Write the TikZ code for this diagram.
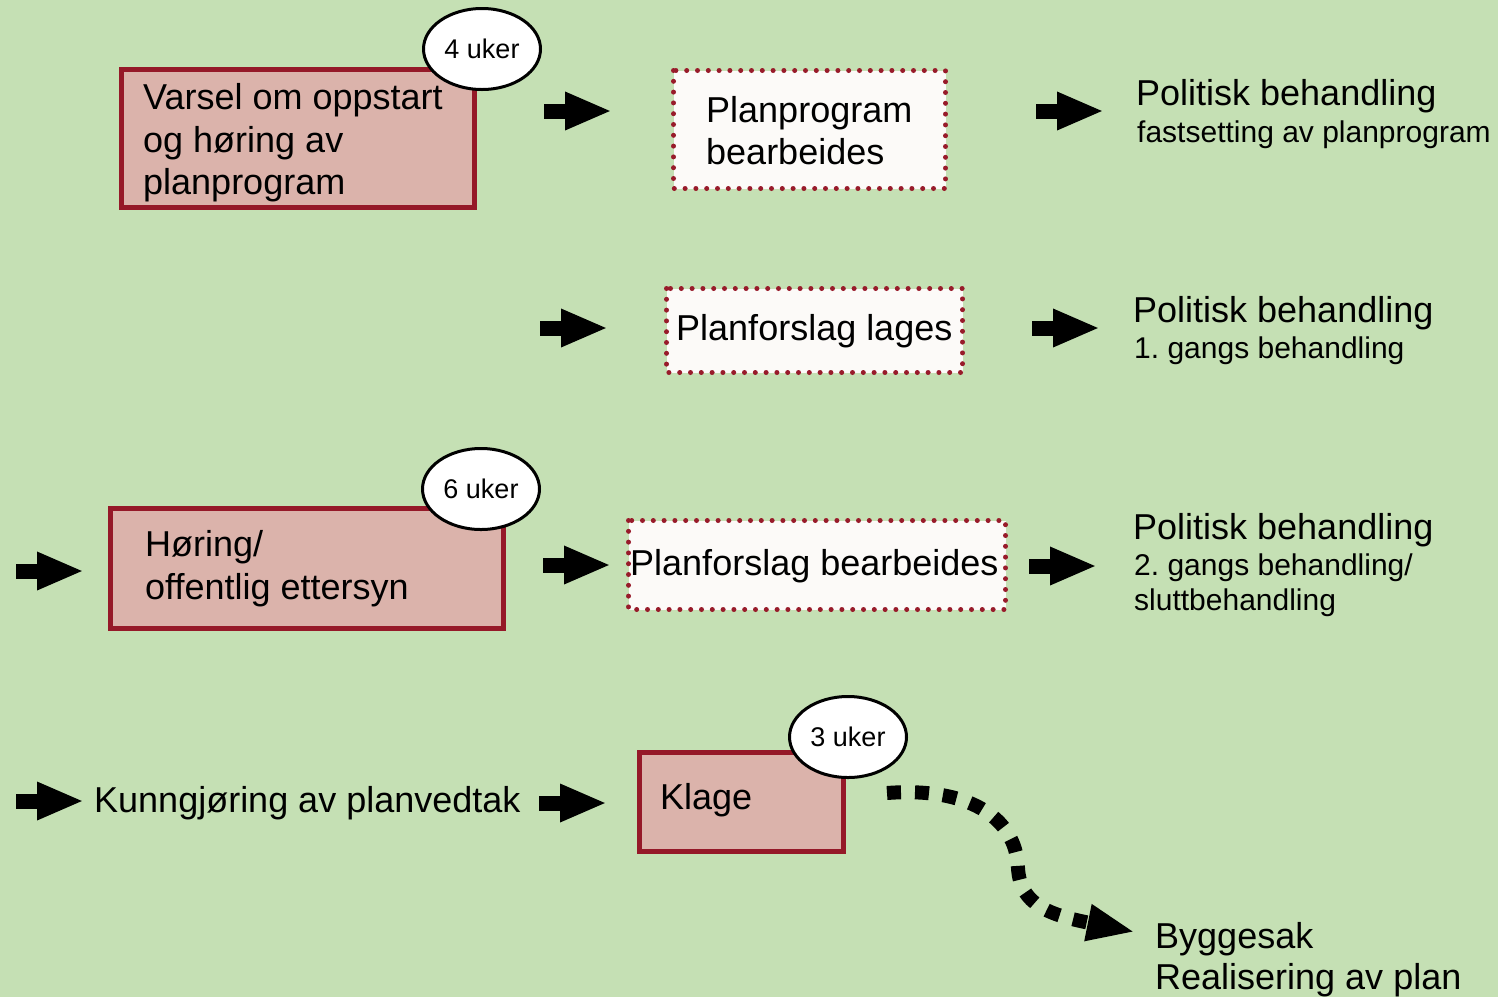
\documentclass[tikz,border=0pt]{standalone}
\usepackage{fontspec}
\setmainfont{Liberation Sans}
\usetikzlibrary{arrows.meta,shapes.geometric}
\frenchspacing
\definecolor{bggreen}{RGB}{197,224,180}
\definecolor{boxpink}{RGB}{219,179,171}
\definecolor{boxred}{RGB}{149,25,40}
\definecolor{dotred}{RGB}{152,27,42}
\definecolor{paper}{RGB}{252,250,248}
\tikzset{
  bigtxt/.style={anchor=base west,inner sep=0pt,font=\fontsize{36}{43}\selectfont},
  subtxt/.style={anchor=base west,inner sep=0pt,font=\fontsize{30}{36}\selectfont},
  pinkbox/.style={fill=boxpink,draw=boxred,line width=5.5pt},
  dotbox/.style={fill=paper,draw=dotred,line width=5pt,line cap=round,dash pattern=on 0pt off 10.8pt},
  bubble/.style={ellipse,draw=black,fill=white,line width=3pt,minimum width=117pt,minimum height=81pt,inner sep=0pt,font=\fontsize{27}{31}\selectfont},
  blockarrow/.style={line width=15pt,-{Triangle[length=47pt,width=35pt]}},
  dasharrow/.style={line width=14pt,dash pattern=on 14pt off 14pt,-{Triangle[length=48pt,width=34pt]}}
}
\begin{document}
\begin{tikzpicture}[x=1pt,y=-1pt]
\fill[bggreen] (0,0) rectangle (1498,997);
\useasboundingbox (0,0) rectangle (1498,997);

% ---------- row 1 ----------
\draw[pinkbox] (121.5,69.5) rectangle (474.5,207.5);
\node[bigtxt] (v1) at (143,109) {Varsel om oppstart};
\node[bigtxt] (v2) at (143,152) {og høring av};
\node[bigtxt] (v3) at (143,194) {planprogram};
\node[bubble] (u4) at (482,49) {4 uker};

\draw[blockarrow] (544,111) coordinate (a1s) -- (612,111) coordinate (a1e);

\draw[dotbox] (673.5,70.5) rectangle (945.5,188.5);
\node[bigtxt] (pb1) at (706,122) {Planprogram};
\node[bigtxt] (pb2) at (706,164) {bearbeides};

\draw[blockarrow] (1036,111) coordinate (a2s) -- (1104,111) coordinate (a2e);

\node[bigtxt] (p1) at (1136,105) {Politisk behandling};
\node[subtxt] (p1s) at (1137,142) {fastsetting av planprogram};

% ---------- row 2 ----------
\draw[blockarrow] (540,328) coordinate (a3s) -- (608,328) coordinate (a3e);

\draw[dotbox] (666.5,288.5) rectangle (962.5,372.5);
\node[bigtxt] (pl) at (676,340) {Planforslag lages};

\draw[blockarrow] (1032,328) coordinate (a4s) -- (1100,328) coordinate (a4e);

\node[bigtxt] (p2) at (1133,322) {Politisk behandling};
\node[subtxt] (p2s) at (1134,358) {1. gangs behandling};

% ---------- row 3 ----------
\draw[blockarrow] (16,571) coordinate (a5s) -- (84,571) coordinate (a5e);

\draw[pinkbox] (110.5,508.5) rectangle (503.5,628.5);
\node[bigtxt] (h1) at (145,556) {Høring/};
\node[bigtxt] (h2) at (145,599) {offentlig ettersyn};
\node[bubble] (u6) at (481,489) {6 uker};

\draw[blockarrow] (543,565) coordinate (a6s) -- (611,565) coordinate (a6e);

\draw[dotbox] (628.5,520.5) rectangle (1005.5,609.5);
\node[bigtxt] (pfb) at (630,575) {Planforslag bearbeides};

\draw[blockarrow] (1029,566) coordinate (a7s) -- (1097,566) coordinate (a7e);

\node[bigtxt] (p3) at (1133,539) {Politisk behandling};
\node[subtxt] (p3s) at (1134,575) {2. gangs behandling/};
\node[subtxt] (p3t) at (1134,610) {sluttbehandling};

% ---------- row 4 ----------
\draw[blockarrow] (16,801) coordinate (a8s) -- (84,801) coordinate (a8e);
\node[bigtxt] (kv) at (94,812) {Kunngjøring av planvedtak};
\draw[blockarrow] (539,803) coordinate (a9s) -- (607,803) coordinate (a9e);

\draw[pinkbox] (639.5,752.5) rectangle (843.5,851.5);
\node[bigtxt] (kl) at (660,809) {Klage};
\node[bubble] (u3) at (848,737) {3 uker};

\coordinate (cs) at (887,793);
\coordinate (ce) at (1135,932);
\draw[dasharrow] (cs) .. controls (965,787) and (1016,815) .. (1018,868)
   .. controls (1020,905) and (1050,915) .. (ce);

\node[bigtxt] (b1) at (1155,948) {Byggesak};
\node[bigtxt] (b2) at (1155,989) {Realisering av plan};
\end{tikzpicture}
\end{document}
